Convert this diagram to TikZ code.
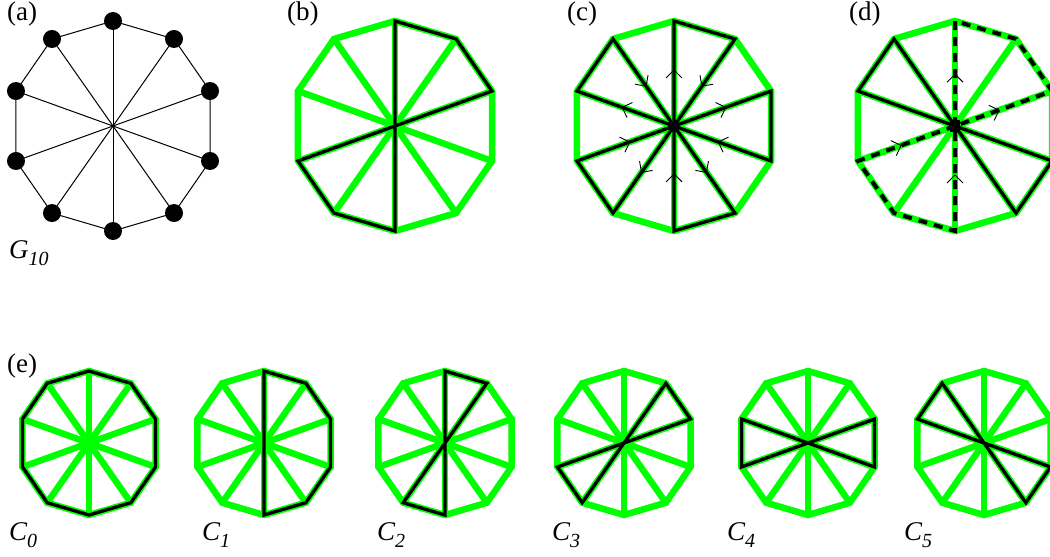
\documentclass[tikz,border=0pt]{standalone}
\usepackage{fontspec}
\setmainfont{Liberation Serif}
\usetikzlibrary{arrows.meta,decorations.markings,calc}
\definecolor{lgreen}{RGB}{0,255,0}

% define decagon coordinates: prefix, cx, cy, radius
\newcommand{\defdec}[4]{%
  \coordinate (#1O) at (#2,#3);
  \coordinate (#1c0) at ({#2},{#3-#4});
  \coordinate (#1c1) at ({#2+0.581*#4},{#3-0.829*#4});
  \coordinate (#1c2) at ({#2+0.924*#4},{#3-0.333*#4});
  \coordinate (#1c3) at ({#2+0.924*#4},{#3+0.333*#4});
  \coordinate (#1c4) at ({#2+0.581*#4},{#3+0.829*#4});
  \coordinate (#1c5) at ({#2},{#3+#4});
  \coordinate (#1c6) at ({#2-0.581*#4},{#3+0.829*#4});
  \coordinate (#1c7) at ({#2-0.924*#4},{#3+0.333*#4});
  \coordinate (#1c8) at ({#2-0.924*#4},{#3-0.333*#4});
  \coordinate (#1c9) at ({#2-0.581*#4},{#3-0.829*#4});
}
\newcommand{\greenbase}[1]{%
  \foreach \k in {0,...,9} {\draw[gline] (#1O) -- (#1c\k);}
  \draw[gline] (#1c0) -- (#1c1) -- (#1c2) -- (#1c3) -- (#1c4) -- (#1c5) -- (#1c6) -- (#1c7) -- (#1c8) -- (#1c9) -- cycle;
}
\newcommand{\panellabel}[1]{\fontsize{27}{29}\selectfont #1}
\newcommand{\graphlabel}[2]{\fontsize{27}{29}\selectfont\itshape #1\raisebox{-7pt}{\fontsize{20}{22}\selectfont #2}}

\begin{document}
\begin{tikzpicture}[x=1pt,y=-1pt,
  gline/.style={draw=lgreen,line width=6.5pt,line join=miter,line cap=butt},
  bline/.style={draw=black,line width=3.3pt,line join=miter},
  dline/.style={draw=black,line width=4pt,dash pattern=on 9pt off 7pt,line join=miter},
  thinedge/.style={draw=black,line width=1pt},
  vtx/.style={circle,fill=black,inner sep=0pt,minimum size=18pt},
  arr/.style={decoration={markings,mark=at position #1 with {\arrow{Straight Barb[length=8pt,width=16pt,line width=0.9pt]}}},decorate},
  lab/.style={inner sep=0pt,anchor=base west}]
\useasboundingbox (0,0) rectangle (1050,557);
\clip (0,0) rectangle (1050,557);

% ---------- (a)
\defdec{a}{113}{126}{105}
\foreach \k in {0,...,9} {\draw[thinedge] (aO) -- (ac\k);}
\draw[thinedge] (ac0) -- (ac1) -- (ac2) -- (ac3) -- (ac4) -- (ac5) -- (ac6) -- (ac7) -- (ac8) -- (ac9) -- cycle;
\foreach \k in {0,...,9} {\node[vtx] (av\k) at (ac\k) {};}
\fill[black] (aO) circle (1.5pt);
\node[lab] (la) at (7,20.5) {\panellabel{(a)}};
\node[lab] (lg) at (9,258) {\graphlabel{G}{10}};

% ---------- (b)
\defdec{b}{395}{126}{105}
\greenbase{b}
\draw[bline] (bO) -- (bc0) -- (bc1) -- (bc2) -- (bO) -- (bc7) -- (bc6) -- (bc5) -- cycle;
\node[lab] (lb) at (287,20.5) {\panellabel{(b)}};

% ---------- (c)
\defdec{c}{674}{126}{105}
\greenbase{c}
\draw[bline] (cO) -- (cc0) -- (cc1) -- cycle;
\draw[bline] (cO) -- (cc2) -- (cc3) -- cycle;
\draw[bline] (cO) -- (cc4) -- (cc5) -- cycle;
\draw[bline] (cO) -- (cc6) -- (cc7) -- cycle;
\draw[bline] (cO) -- (cc8) -- (cc9) -- cycle;
\foreach \k in {0,2,4,6,8} {\path[arr=0.54] (cO) -- (cc\k);}
\foreach \k in {1,3,5,7,9} {\path[arr=0.55] (cc\k) -- (cO);}
\node[lab] (lc) at (567,20.5) {\panellabel{(c)}};

% ---------- (d)
\defdec{d}{955}{126}{105}
\greenbase{d}
\draw[bline] (dO) -- (dc9) -- (dc8) -- cycle;
\draw[bline] (dO) -- (dc3) -- (dc4) -- cycle;
\draw[dline] (dO) -- (dc0) -- (dc1) -- (dc2) -- cycle;
\draw[dline] (dO) -- (dc7) -- (dc6) -- (dc5) -- cycle;
\fill[black] ($(dO)+(-5,-6)$) rectangle ($(dO)+(5,6)$);
\path[arr=0.5] (dO) -- (dc0);
\path[arr=0.46] (dO) -- (dc2);
\path[arr=0.45] (dc7) -- (dO);
\path[arr=0.54] (dc5) -- (dO);
\node[lab] (ld) at (849,20.5) {\panellabel{(d)}};

% ---------- (e)
\node[lab] (le) at (7,372) {\panellabel{(e)}};
\defdec{e0}{89}{443}{72}
\defdec{e1}{264}{443}{72}
\defdec{e2}{445}{443}{72}
\defdec{e3}{624}{443}{72}
\defdec{e4}{808}{443}{72}
\defdec{e5}{984}{443}{72}
\greenbase{e0}
\greenbase{e1}
\greenbase{e2}
\greenbase{e3}
\greenbase{e4}
\greenbase{e5}
\draw[bline] (e0c0) -- (e0c1) -- (e0c2) -- (e0c3) -- (e0c4) -- (e0c5) -- (e0c6) -- (e0c7) -- (e0c8) -- (e0c9) -- cycle;
\draw[bline] (e1c0) -- (e1c1) -- (e1c2) -- (e1c3) -- (e1c4) -- (e1c5) -- cycle;
\draw[bline] (e2O) -- (e2c0) -- (e2c1) -- (e2O) -- (e2c6) -- (e2c5) -- cycle;
\draw[bline] (e3O) -- (e3c1) -- (e3c2) -- (e3O) -- (e3c7) -- (e3c6) -- cycle;
\draw[bline] (e4O) -- (e4c2) -- (e4c3) -- (e4O) -- (e4c8) -- (e4c7) -- cycle;
\draw[bline] (e5O) -- (e5c9) -- (e5c8) -- (e5O) -- (e5c3) -- (e5c4) -- cycle;
\node[lab] (l0) at (9,540) {\graphlabel{C}{0}};
\node[lab] (l1) at (202,540) {\graphlabel{C}{1}};
\node[lab] (l2) at (377,540) {\graphlabel{C}{2}};
\node[lab] (l3) at (552,540) {\graphlabel{C}{3}};
\node[lab] (l4) at (727,540) {\graphlabel{C}{4}};
\node[lab] (l5) at (904,540) {\graphlabel{C}{5}};
\end{tikzpicture}
\end{document}
